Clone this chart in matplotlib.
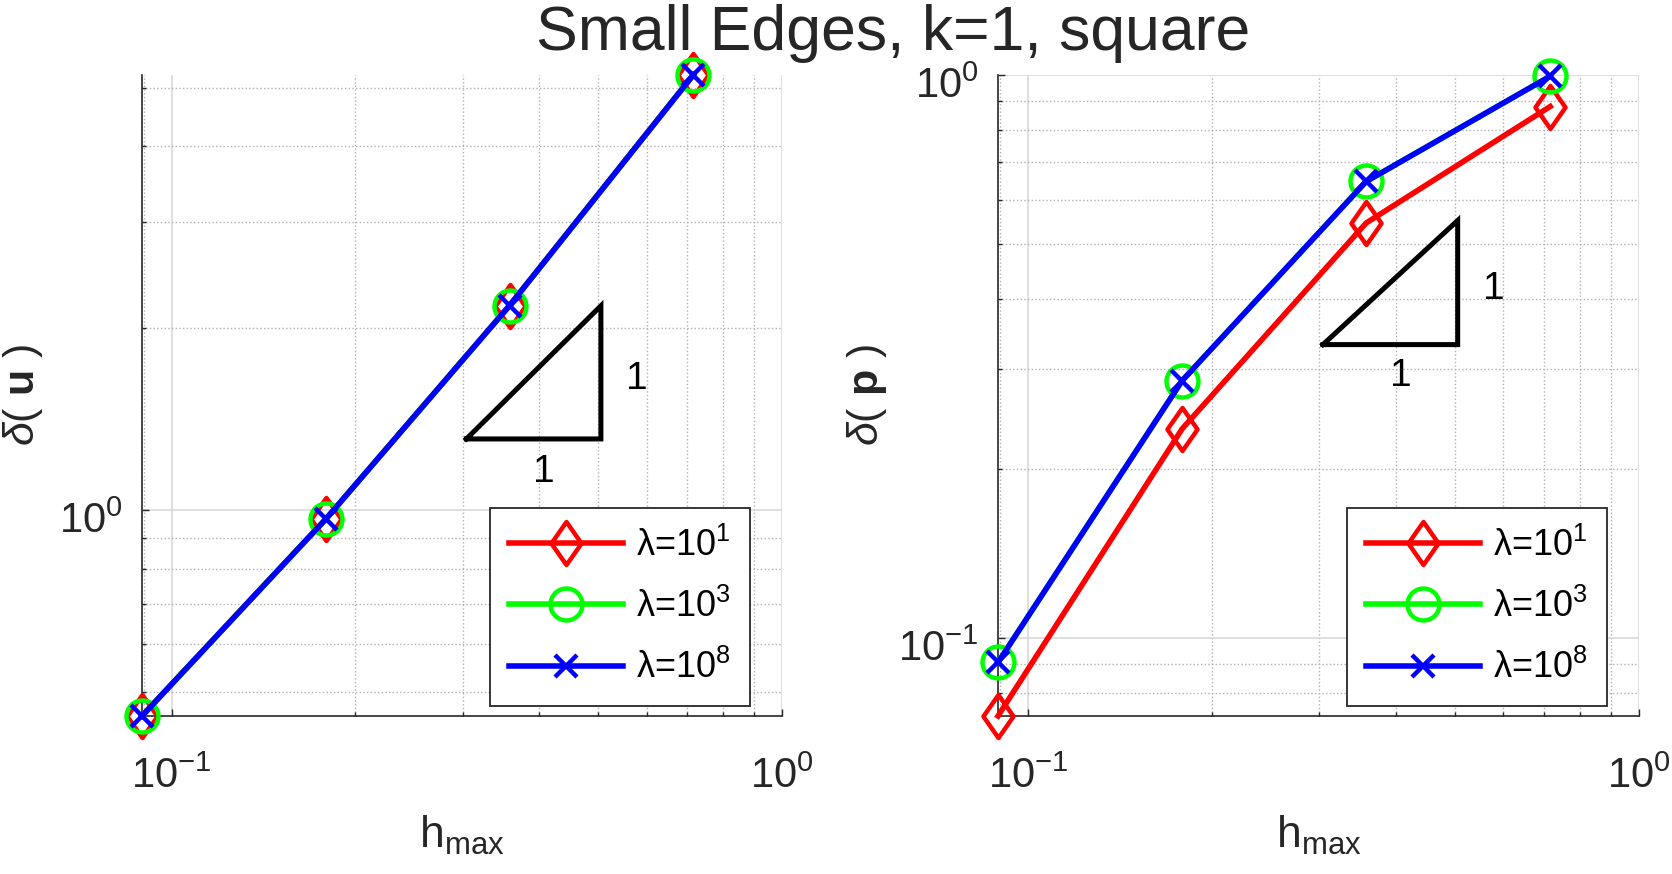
import matplotlib
matplotlib.use('Agg')
import matplotlib.pyplot as plt
import numpy as np
from matplotlib.path import Path
from matplotlib.transforms import ScaledTranslation
from matplotlib.ticker import FixedLocator, NullFormatter, LogFormatterSciNotation

plt.rcParams['font.family'] = ['Liberation Sans', 'DejaVu Sans']
plt.rcParams['mathtext.fontset'] = 'custom'
plt.rcParams['mathtext.rm'] = 'Liberation Sans'
plt.rcParams['mathtext.it'] = 'Liberation Sans:italic'
plt.rcParams['mathtext.bf'] = 'Liberation Sans:bold'

# mesh size (same for both panels)
h_max = [0.0894, 0.1789, 0.3578, 0.7155]

# velocity error delta(u)
u_lam1 = [0.456, 0.966, 2.18, 5.25]
u_lam3 = [0.456, 0.966, 2.18, 5.25]
u_lam8 = [0.456, 0.966, 2.18, 5.25]

# pressure error delta(p)
p_lam1 = [0.0727, 0.2353, 0.546, 0.879]
p_lam3 = [0.0905, 0.2866, 0.647, 0.995]
p_lam8 = [0.0905, 0.2866, 0.647, 0.995]

labels = [r'λ=10$^{1}$', r'λ=10$^{3}$', r'λ=10$^{8}$']
colors = ['#ff0000', '#00ff00', '#0000ff']

TXT = '#262626'
DIAMOND = Path([(0, 1), (0.7, 0), (0, -1), (-0.7, 0), (0, 1)], closed=True)
markers = [(DIAMOND, 31), ('o', 23), ('x', 16)]


def panel(ax, series, ylabel, ylim, tri, ylab_x):
    # curvas
    for y, c, (m, ms), lab in zip(series, colors, markers, labels):
        ax.plot(h_max, y, color=c, lw=4, marker=m, ms=ms, mew=3.2,
                mfc='none', mec=c, label=lab, clip_on=False, zorder=5)

    ax.set_xscale('log')
    ax.set_yscale('log')
    ax.set_xlim(h_max[0], 1.0)
    ax.set_ylim(*ylim)

    minors = [s * 10.0 ** e for e in range(-3, 2) for s in range(2, 10)]
    majors = [10.0 ** e for e in range(-3, 2)]
    for axis in (ax.xaxis, ax.yaxis):
        axis.set_major_locator(FixedLocator(majors))
        axis.set_minor_locator(FixedLocator(minors))
        axis.set_major_formatter(LogFormatterSciNotation())
        axis.set_minor_formatter(NullFormatter())

    ax.grid(True, which='major', color='#d6d6d6', lw=1.1, ls='-')
    ax.grid(True, which='minor', color='#b0b0b0', lw=1.0, ls=':')
    ax.set_axisbelow(True)

    for s in ('top', 'right'):
        ax.spines[s].set_visible(False)
    for s in ('left', 'bottom'):
        ax.spines[s].set_color(TXT)
        ax.spines[s].set_linewidth(1.2)
    ax.tick_params(which='both', direction='in', colors=TXT, labelsize=30,
                   top=False, right=False, width=1)
    ax.tick_params(which='major', length=5)
    ax.tick_params(which='minor', length=3)
    ax.tick_params(axis='x', pad=29)
    ax.tick_params(axis='y', pad=14)
    # etiquetas del eje y un poco mas abajo (como en MATLAB)
    off = ScaledTranslation(0, -5 / 72, ax.figure.dpi_scale_trans)
    for t in ax.yaxis.get_major_ticks():
        t.label1.set_transform(t.label1.get_transform() + off)

    ax.set_xlabel(r'h$_{\mathrm{max}}$', fontsize=32, color=TXT)
    ax.xaxis.set_label_coords(0.5, -0.152)
    ax.set_ylabel(ylabel, fontsize=31, color=TXT)
    ax.yaxis.set_label_coords(ylab_x, 0.5)

    # triangulo de pendiente 1
    x0, x1, y0 = tri
    y1 = y0 * x1 / x0
    ax.plot([x0, x1, x1, x0], [y0, y0, y1, y0], color='k', lw=3.6,
            solid_joinstyle='miter', zorder=4)
    ax.text(x1 * 1.145, np.sqrt(y0 * y1) * 0.975, '1', fontsize=28,
            ha='center', va='center', color='k')
    ax.text(np.sqrt(x0 * x1) * 1.04, y0 / 1.135, '1', fontsize=28,
            ha='center', va='center', color='k')

    leg = ax.legend(loc='lower right', bbox_to_anchor=(0.95, 0.0156),
                    borderaxespad=0, fancybox=False, framealpha=1,
                    edgecolor=TXT, fontsize=26, handlelength=3.15,
                    handletextpad=0.35, borderpad=0.54, labelspacing=0.7)
    leg.get_frame().set_linewidth(1.3)
    leg.set_zorder(10)


fig = plt.figure(figsize=(16.72, 8.74), dpi=100)
ax1 = fig.add_axes([0.0849, 0.1808, 0.3828, 0.7334])
ax2 = fig.add_axes([0.5969, 0.1808, 0.3834, 0.7334])

panel(ax1, [u_lam1, u_lam3, u_lam8], r'$\delta$( $\mathbf{u}$ )',
      (min(u_lam1), max(u_lam1)), (0.304, 0.505, 1.311), -0.152)
panel(ax2, [p_lam1, p_lam3, p_lam8], r'$\delta$( $\mathbf{p}$ )',
      (min(p_lam1), 1.0), (0.304, 0.505, 0.332), -0.17)

fig.text(0.534, 0.9428, 'Small Edges, k=1, square', fontsize=45,
         ha='center', va='baseline', color=TXT)

fig.savefig('out.png', dpi=100)
plt.close(fig)
